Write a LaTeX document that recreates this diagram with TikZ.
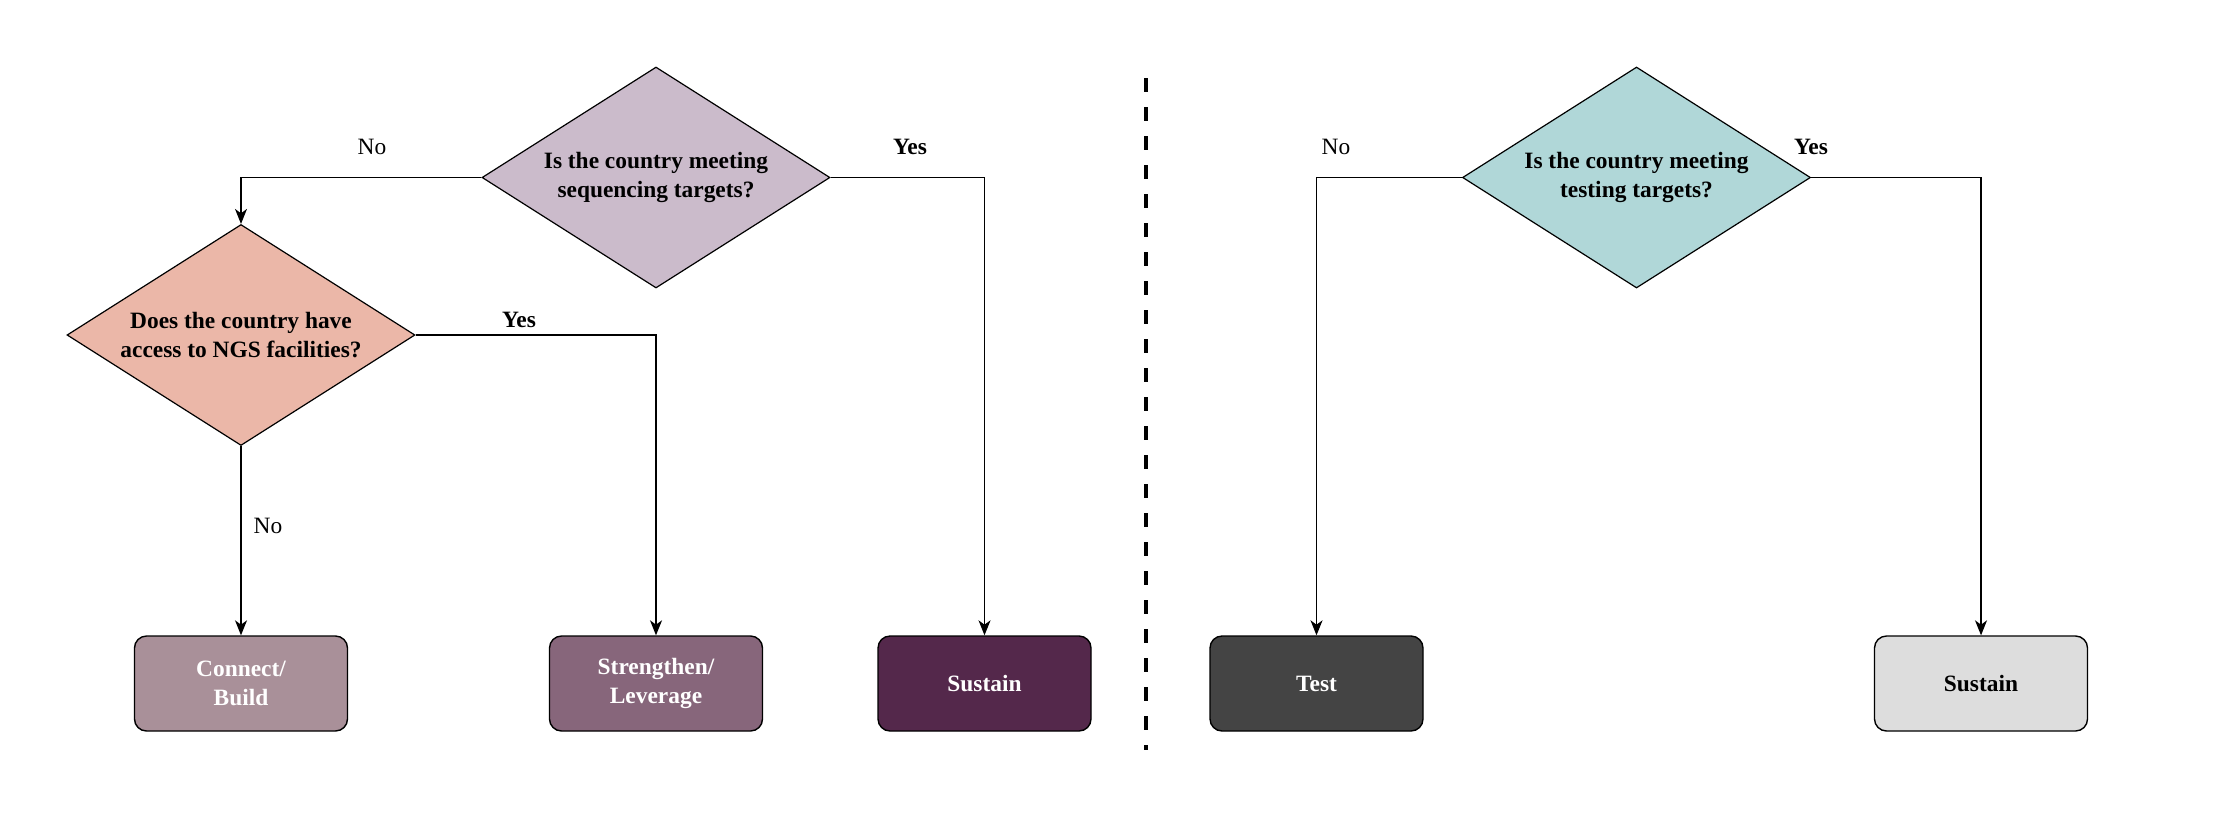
\documentclass[tikz,border=0pt]{standalone}
\usepackage{fontspec}
\setmainfont{Liberation Serif}
\usetikzlibrary{shapes.geometric,arrows.meta}
\definecolor{cseq}{HTML}{CBBBCB}
\definecolor{cngs}{HTML}{EBB7A8}
\definecolor{ctest}{HTML}{B0D7D8}
\definecolor{ccon}{HTML}{A99099}
\definecolor{cstr}{HTML}{87667B}
\definecolor{csus}{HTML}{54284B}
\definecolor{ctst}{HTML}{444444}
\definecolor{csus2}{HTML}{DDDDDD}
\tikzset{
  dia/.style={shape=diamond, draw=black, line width=0.6pt, inner sep=0pt, aspect=1.575,
    minimum width=174pt, minimum height=110.5pt, font=\fontsize{11.7pt}{14.2pt}\selectfont\bfseries, align=center},
  box/.style={draw=black, line width=0.7pt, rounded corners=6pt,
    minimum width=106.5pt, minimum height=47.5pt, inner sep=0pt,
    font=\fontsize{11.7pt}{14.2pt}\selectfont\bfseries, align=center},
  arr/.style={draw=black, line width=0.6pt, -{Stealth[length=7.5pt,width=6pt,inset=2.2pt]}},
  lbl/.style={font=\fontsize{11.7pt}{14.2pt}\selectfont, inner sep=0pt},
  lblb/.style={font=\fontsize{11.7pt}{14.2pt}\selectfont\bfseries, inner sep=0pt},
}
\begin{document}
\begin{tikzpicture}[x=0.5pt,y=-0.5pt]
\useasboundingbox (0,0) rectangle (2236,814);
% left part
\node[dia, fill=cseq] (d1) at (656,177.5) {Is the country meeting\\sequencing targets?};
\node[dia, fill=cngs] (d2) at (241,335) {Does the country have\\access to NGS facilities?};
\node[box, fill=ccon, text=white] (con) at (241,683.5) {Connect/\\Build};
\node[box, fill=cstr, text=white] (str) at (656,683.5) {Strengthen/\\Leverage};
\node[box, fill=csus, text=white] (sus) at (984.5,683.5) {Sustain};
\draw[arr] (d1.west) -| (d2.north);
\draw[arr] (d1.east) -| (sus.north);
\draw[arr] (d2.east) -| (str.north);
\draw[arr] (d2.south) -- (con.north);
\node[lbl] (l1) at (372,147) {No};
\node[lblb] (l2) at (910,147) {Yes};
\node[lblb] (l3) at (519,320) {Yes};
\node[lbl] (l4) at (268,526) {No};
% divider
\coordinate (dtop) at (1146,78);
\coordinate (dbot) at (1146,750);
\draw[line width=2.15pt, dash pattern=on 7pt off 7.5pt] (dtop) -- (dbot);
% right part
\node[dia, fill=ctest] (d3) at (1636.5,177.5) {Is the country meeting\\testing targets?};
\node[box, fill=ctst, text=white] (tst) at (1316.5,683.5) {Test};
\node[box, fill=csus2, text=black] (sus2) at (1981,683.5) {Sustain};
\draw[arr] (d3.west) -| (tst.north);
\draw[arr] (d3.east) -| (sus2.north);
\node[lbl] (l5) at (1336,147) {No};
\node[lblb] (l6) at (1811,147) {Yes};
\end{tikzpicture}
\end{document}
